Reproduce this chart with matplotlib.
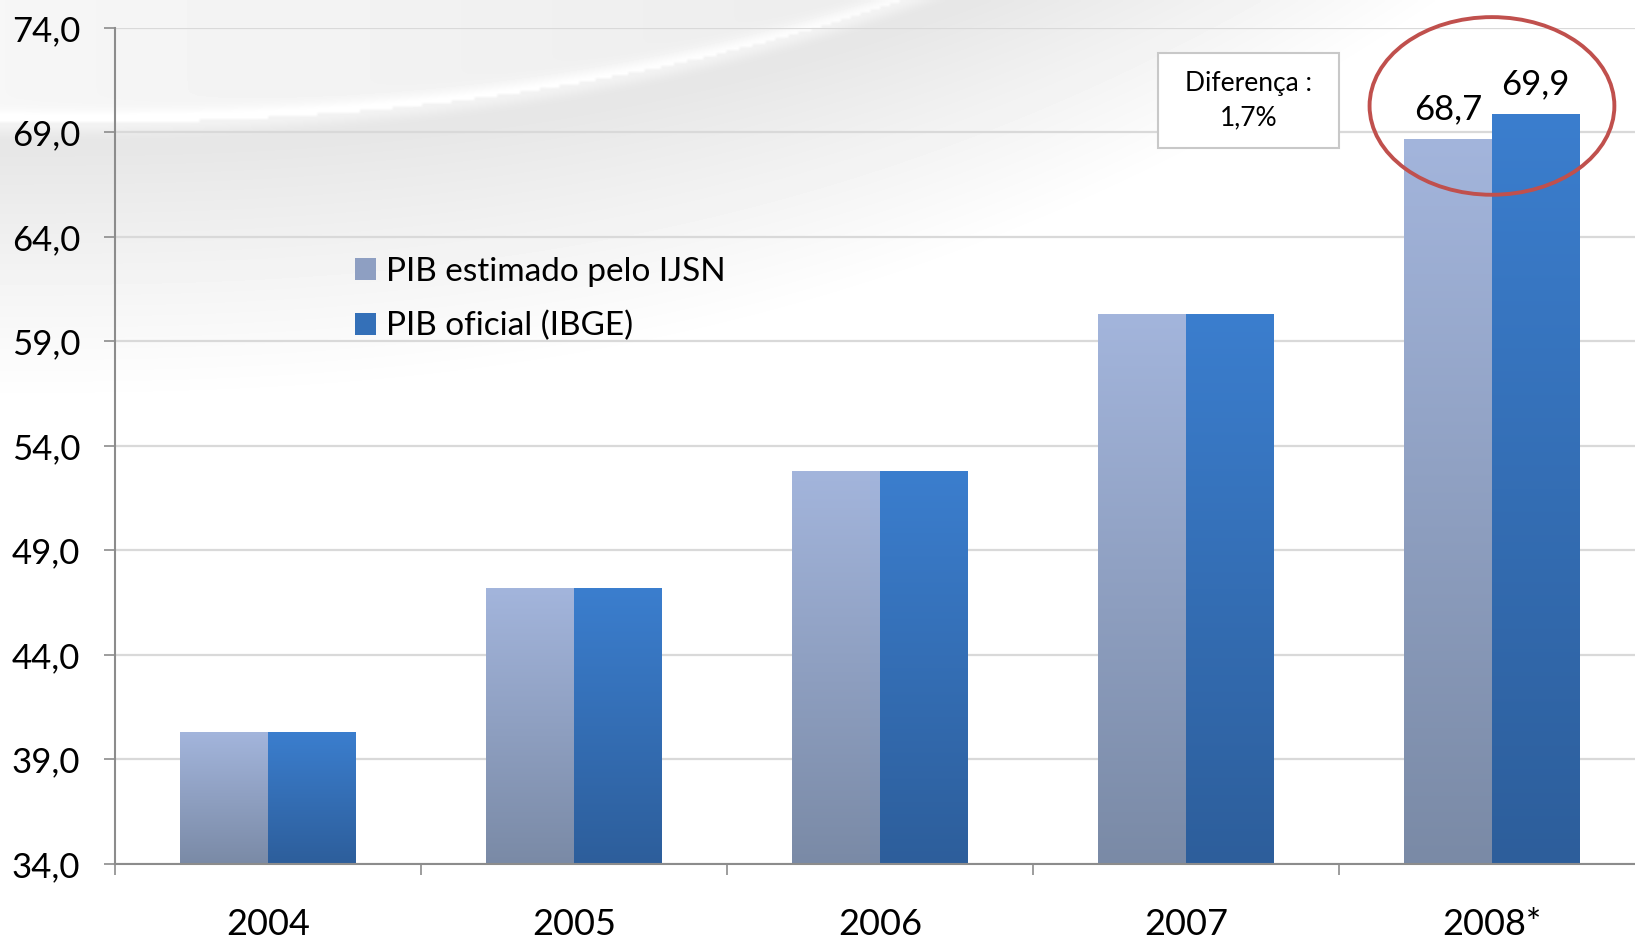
import matplotlib
matplotlib.use('Agg')
import matplotlib.pyplot as plt
import numpy as np
from matplotlib.patches import Ellipse, Patch, Rectangle
from matplotlib.colors import LinearSegmentedColormap

plt.rcParams['font.family'] = ['Lato', 'DejaVu Sans']

# dados (R$ bilhões)
anos = ['2004', '2005', '2006', '2007', '2008*']
pib_ijsn = [40.3, 47.2, 52.8, 60.3, 68.7]
pib_ibge = [40.3, 47.2, 52.8, 60.3, 69.9]
rotulos_2008 = ['68,7', '69,9']
nomes = ['PIB estimado pelo IJSN', 'PIB oficial (IBGE)']
y_min, y_max, y_passo = 34.0, 74.0, 5.0
texto_dif = 'Diferença :\n1,7%'

# cores (topo, base) do degradê
cor_ijsn = ('#A3B5DC', '#7A8AA6')
cor_ibge = ('#3B7ECE', '#2D5E9B')


def fundo(fig):
    # fundo cinza claro com a "onda" no topo, branco embaixo
    bg = fig.add_axes([0, 0, 1, 1], zorder=-10)
    h, w = 300, 500
    yy, xx = np.mgrid[0:1:h * 1j, 0:1:w * 1j]
    curva = 0.13 - 0.13 * (xx / 0.55) ** 2.5
    abaixo = yy > curva
    dist = np.clip((yy - curva) / 0.30, 0, 1)
    img = np.where(abaixo, 0.89 + 0.11 * dist ** 0.9, 0.965 - 0.07 * xx)
    faixa = np.exp(-((yy - curva) / 0.012) ** 2)
    img = np.clip(img + 0.06 * faixa * (xx < 0.6), 0, 1)
    bg.imshow(img, cmap='gray', vmin=0, vmax=1, aspect='auto',
              extent=[0, 1, 0, 1], interpolation='bilinear')
    bg.axis('off')


def barra_gradiente(ax, rect, cores, base):
    x0, w = rect.get_x(), rect.get_width()
    topo = rect.get_y() + rect.get_height()
    cmap = LinearSegmentedColormap.from_list('g', [cores[1], cores[0]])
    grad = np.linspace(0, 1, 256).reshape(-1, 1)
    im = ax.imshow(grad, cmap=cmap, origin='lower', aspect='auto',
                   extent=[x0, x0 + w, base, topo], zorder=2)
    im.set_clip_path(rect)
    rect.set_alpha(0)


fig = plt.figure(figsize=(16.35, 9.39), dpi=100)
fundo(fig)
ax = fig.add_axes([0.0703, 0.0799, 0.9358, 0.8903])
ax.set_facecolor('none')

x = np.arange(len(anos))
larg = 0.286
b1 = ax.bar(x - larg / 2, pib_ijsn, larg, color=cor_ijsn[0], zorder=2)
b2 = ax.bar(x + larg / 2, pib_ibge, larg, color=cor_ibge[0], zorder=2)
for r in b1:
    barra_gradiente(ax, r, cor_ijsn, y_min)
for r in b2:
    barra_gradiente(ax, r, cor_ibge, y_min)

ax.set_xlim(-0.5, len(anos) - 0.5)
ax.set_ylim(y_min, y_max)

yt = np.arange(y_min, y_max + 0.1, y_passo)
ax.set_yticks(yt)
ax.set_yticklabels(['{:.1f}'.format(v).replace('.', ',') for v in yt], fontsize=25)
ax.set_xticks(x)
ax.set_xticklabels(anos, fontsize=26)
ax.set_xticks(np.arange(len(anos) + 1) - 0.5, minor=True)
ax.tick_params(axis='x', which='major', length=0, pad=32)
ax.tick_params(axis='x', which='minor', length=8, width=1.2, color='#8c8c8c')
ax.tick_params(axis='y', length=8, width=1.2, color='#8c8c8c', pad=17)

for s in ['top', 'right']:
    ax.spines[s].set_visible(False)
for s in ['left', 'bottom']:
    ax.spines[s].set_color('#8c8c8c')
    ax.spines[s].set_linewidth(1.5)
ax.yaxis.grid(True, color='#d9d9d9', lw=1.6)
ax.set_axisbelow(True)

# rótulos 2008
ax.annotate(rotulos_2008[0], (x[-1] - larg / 2, pib_ijsn[-1]), xytext=(0, 14),
            textcoords='offset points', ha='center', va='baseline', fontsize=25)
ax.annotate(rotulos_2008[1], (x[-1] + larg / 2, pib_ibge[-1]), xytext=(0, 14),
            textcoords='offset points', ha='center', va='baseline', fontsize=25)

# destaque
ax.add_patch(Ellipse((x[-1], 70.27), 0.80, 8.5, fill=False, ec='#C0504D',
                     lw=2.8, clip_on=False, zorder=6))

# caixa "Diferença"
ax.add_patch(Rectangle((2.908, 68.26), 0.592, 4.54, fc='white', ec='#c8c8c8',
                       lw=1.5, zorder=6))
ax.text(3.204, 70.53, texto_dif, ha='center', va='center', fontsize=19,
        linespacing=1.45, zorder=7)

handles = [Patch(facecolor='#8E9FC2', edgecolor='none'),
           Patch(facecolor='#3470B8', edgecolor='none')]
ax.legend(handles, nomes, loc='upper left', bbox_to_anchor=(0.157, 0.726),
          frameon=False, fontsize=24, handlelength=0.63, handleheight=0.63,
          handletextpad=0.3, labelspacing=0.72, borderpad=0, borderaxespad=0)

fig.savefig('out.png', dpi=100)
